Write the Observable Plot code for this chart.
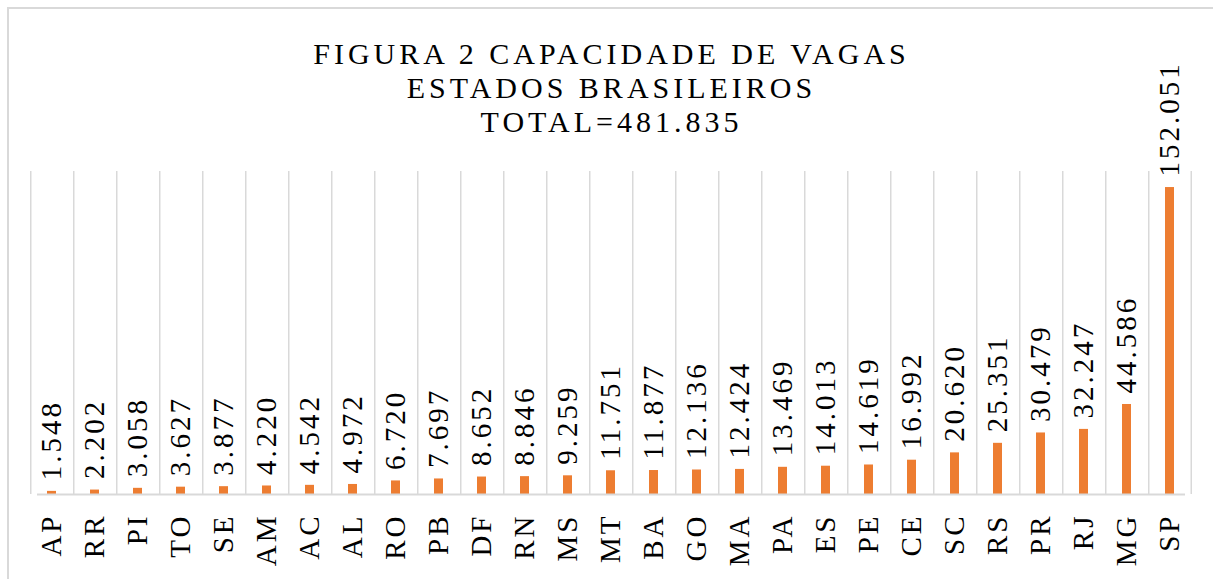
<!DOCTYPE html>
<html>
<head>
<meta charset="utf-8">
<script src="https://cdn.jsdelivr.net/npm/d3@7"></script>
<script src="https://cdn.jsdelivr.net/npm/@observablehq/plot@0.6"></script>
<style>
  html, body { margin: 0; padding: 0; background: #fff; }
  body { width: 1213px; height: 579px; position: relative; overflow: hidden; font-family: "Liberation Serif", "Times New Roman", Times, "DejaVu Serif", serif; }
  #frame { position: absolute; left: 7px; top: 7px; width: 1220px; height: 600px; border-left: 2px solid #d9d9d9; border-top: 2px solid #d9d9d9; box-sizing: border-box; pointer-events: none; }
  #title { position: relative; height: 150px; box-sizing: border-box; padding-top: 37px; padding-left: 10px; text-align: center; font-size: 30px; line-height: 34px; letter-spacing: 4px; color: #000; font-family: "Liberation Serif", "Times New Roman", Times, "DejaVu Serif", serif; }
  #chart svg { overflow: visible; display: block; }
  #chart svg text { font-family: "Liberation Serif", "Times New Roman", Times, "DejaVu Serif", serif; }
</style>
</head>
<body>
<div id="frame"></div>
<div id="title">FIGURA 2 CAPACIDADE DE VAGAS<br>ESTADOS BRASILEIROS<br>TOTAL=481.835</div>
<div id="chart"></div>
<script>
const states = ["AP","RR","PI","TO","SE","AM","AC","AL","RO","PB","DF","RN","MS","MT","BA","GO","MA","PA","ES","PE","CE","SC","RS","PR","RJ","MG","SP"];
const vagas = [1548,2202,3058,3627,3877,4220,4542,4972,6720,7697,8652,8846,9259,11751,11877,12136,12424,13469,14013,14619,16992,20620,25351,30479,32247,44586,152051];
const yMax = 160000;

const data = states.map((s, i) => ({state: s, value: vagas[i]}));
const fmt = d3.formatLocale({decimal: ",", thousands: ".", grouping: [3], currency: ["R$", ""]}).format(",d");

const W = 1213, H = 429;
const mL = 37, mR = 28, mT = 21, mB = 85;
const step = (W - mL - mR) / states.length;
const grid = "#d9d9d9";
const serif = "'Liberation Serif', 'Times New Roman', Times, 'DejaVu Serif', serif";

const plot = Plot.plot({
  width: W,
  height: H,
  marginLeft: mL,
  marginRight: mR,
  marginTop: mT,
  marginBottom: mB,
  style: {fontFamily: serif, color: "#000", background: "transparent", letterSpacing: "3px"},
  x: {domain: states, padding: 0.79, paddingOuter: 0, align: 0.5, label: null},
  y: {domain: [0, yMax], axis: null},
  marks: [
    Plot.ruleX(states, {x: d => d, y1: 0, y2: yMax, dx: -step / 2, stroke: grid, strokeWidth: 1.5}),
    Plot.ruleX([states[states.length - 1]], {x: d => d, y1: 0, y2: yMax, dx: step / 2, stroke: grid, strokeWidth: 1.5}),
    Plot.barY(data, {x: "state", y: "value", fill: "#ED7D31"}),
    Plot.ruleY([0], {stroke: grid, strokeWidth: 2}),
    Plot.text(data, {x: "state", y: "value", text: d => fmt(d.value), rotate: -90, textAnchor: "start", lineAnchor: "middle", dy: -11, fontSize: 29, fontFamily: serif, fill: "#000"}),
    Plot.axisX({tickSize: 0, tickPadding: 19, tickRotate: -90, fontSize: 29, fontFamily: serif, label: null, fill: "#000"})
  ]
});
document.getElementById("chart").appendChild(plot);
</script>
</body>
</html>
